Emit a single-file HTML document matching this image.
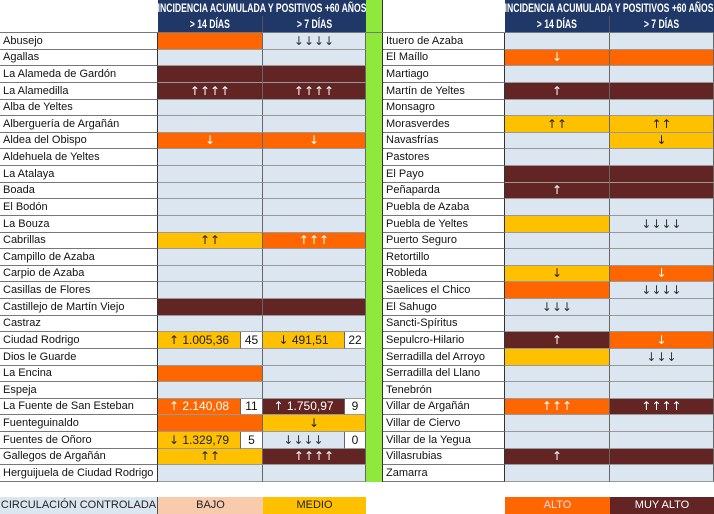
<!DOCTYPE html>
<html><head><meta charset="utf-8"><style>
body{margin:0;width:714px;height:514px;background:#fff;position:relative;overflow:hidden;font-family:"Liberation Sans",sans-serif;}
.c{position:absolute;box-sizing:border-box;font-size:11px;line-height:16px;white-space:nowrap;overflow:hidden;}
.n{padding-left:3px;color:#111;background:#fff;border-bottom:1px solid #777;border-right:1px solid #333;}
.v{text-align:center;border-bottom:1px solid #999;border-right:1px solid #666;}
.h{background:#1f3868;color:#fff;font-weight:bold;text-align:center;font-size:12px;}
.h span{display:inline-block;transform:scaleX(0.72);transform-origin:center;}
.a{font-family:"DejaVu Sans",sans-serif;font-size:12px;letter-spacing:0px;}
</style></head><body>
<div class="c h" style="left:158px;top:0;width:208px;height:16px;overflow:visible;"><span style="margin-left:-50px;margin-right:-50px;">INCIDENCIA ACUMULADA Y POSITIVOS +60 AÑOS</span></div>
<div class="c h" style="left:158px;top:16px;width:105px;height:17px;border-right:1px solid #555;line-height:17px;"><span>&gt; 14 DÍAS</span></div>
<div class="c h" style="left:263px;top:16px;width:103px;height:17px;line-height:17px;"><span>&gt; 7 DÍAS</span></div>
<div class="c h" style="left:505px;top:0;width:209px;height:16px;overflow:visible;"><span style="margin-left:-50px;margin-right:-50px;">INCIDENCIA ACUMULADA Y POSITIVOS +60 AÑOS</span></div>
<div class="c h" style="left:505px;top:16px;width:105px;height:17px;border-right:1px solid #555;line-height:17px;"><span>&gt; 14 DÍAS</span></div>
<div class="c h" style="left:610px;top:16px;width:104px;height:17px;line-height:17px;"><span>&gt; 7 DÍAS</span></div>
<div class="c" style="left:366px;top:0;width:17px;height:482px;background:#8fe83c;border-right:1px solid #333;"></div>
<div class="c" style="left:0;top:32px;width:714px;height:1px;background:#777;"></div>
<div id="t"></div>
<div class="c" style="left:0;top:497px;width:158px;height:17px;line-height:17px;background:#dce6f1;text-align:center;color:#222;border-right:1px solid #555;">CIRCULACIÓN CONTROLADA</div>
<div class="c" style="left:158px;top:497px;width:105px;height:17px;line-height:17px;background:#f8cbad;text-align:center;color:#222;">BAJO</div>
<div class="c" style="left:263px;top:497px;width:103px;height:17px;line-height:17px;background:#ffc000;text-align:center;color:#222;">MEDIO</div>
<div class="c" style="left:505px;top:497px;width:105px;height:17px;line-height:17px;background:#ff6600;text-align:center;color:#fde;">ALTO</div>
<div class="c" style="left:610px;top:497px;width:104px;height:17px;line-height:17px;background:#632523;text-align:center;color:#fff;">MUY ALTO</div>
<script>
var C={l:'#dce6f1',o:'#ff6600',m:'#632523',y:'#ffc000'};
var TC={l:'#333',o:'#fff',m:'#fff',y:'#222'};
var L=[
["Abusejo","o","","l","↓↓↓↓"],["Agallas","l","","l",""],["La Alameda de Gardón","m","","m",""],
["La Alamedilla","m","↑↑↑↑","m","↑↑↑↑"],["Alba de Yeltes","l","","l",""],["Alberguería de Argañán","l","","l",""],
["Aldea del Obispo","o","↓","o","↓"],["Aldehuela de Yeltes","l","","l",""],["La Atalaya","l","","l",""],
["Boada","l","","l",""],["El Bodón","l","","l",""],["La Bouza","l","","l",""],
["Cabrillas","y","↑↑","o","↑↑↑"],["Campillo de Azaba","l","","l",""],["Carpio de Azaba","l","","l",""],
["Casillas de Flores","l","","l",""],["Castillejo de Martín Viejo","m","","m",""],["Castraz","l","","l",""],
["Ciudad Rodrigo","y","↑ 1.005,36","y","↓ 491,51","45","22"],["Dios le Guarde","l","","l",""],["La Encina","o","","l",""],
["Espeja","l","","l",""],["La Fuente de San Esteban","o","↑ 2.140,08","m","↑ 1.750,97","11","9"],["Fuenteguinaldo","o","","y","↓"],
["Fuentes de Oñoro","y","↓ 1.329,79","l","↓↓↓↓","5","0"],["Gallegos de Argañán","y","↑↑","m","↑↑↑↑"],["Herguijuela de Ciudad Rodrigo","l","","l",""]];
var R=[
["Ituero de Azaba","l","","l",""],["El Maíllo","o","↓","o",""],["Martiago","l","","l",""],
["Martín de Yeltes","m","↑","m",""],["Monsagro","l","","l",""],["Morasverdes","y","↑↑","y","↑↑"],
["Navasfrías","l","","y","↓"],["Pastores","l","","l",""],["El Payo","m","","m",""],
["Peñaparda","m","↑","m",""],["Puebla de Azaba","l","","l",""],["Puebla de Yeltes","y","","l","↓↓↓↓"],
["Puerto Seguro","l","","l",""],["Retortillo","l","","l",""],["Robleda","y","↓","o","↓"],
["Saelices el Chico","o","","l","↓↓↓↓"],["El Sahugo","l","↓↓↓","l",""],["Sancti-Spíritus","l","","l",""],
["Sepulcro-Hilario","m","↑","o","↓"],["Serradilla del Arroyo","y","","l","↓↓↓"],["Serradilla del Llano","l","","l",""],
["Tenebrón","l","","l",""],["Villar de Argañán","o","↑↑↑","m","↑↑↑↑"],["Villar de Ciervo","l","","l",""],
["Villar de la Yegua","l","","l",""],["Villasrubias","m","↑","m",""],["Zamarra","l","","l",""]];
var h='',rh=(482-33)/27;
function fmt(t){return t.replace(/([↑↓]+)/g,'<span class="a">$1</span>');}
function cell(x,y,w,hh,cls,bg,col,txt,extra){return '<div class="c '+cls+'" style="left:'+x+'px;top:'+y+'px;width:'+w+'px;height:'+hh+'px;line-height:'+(hh-1)+'px;background:'+bg+';color:'+col+';'+(extra||'')+'">'+fmt(txt)+'</div>';}
function side(D,x0,nw,w1,w2){
 D.forEach(function(r,i){
  var y=Math.round(33+i*rh),y2=Math.round(33+(i+1)*rh),hh=y2-y;
  h+=cell(x0,y,nw,hh,'n','#fff','#111',r[0]);
  var x1=x0+nw;
  if(r.length>5){
   h+=cell(x1,y,w1-22,hh,'v',C[r[1]],TC[r[1]],r[2],'font-size:12px;');
   h+=cell(x1+w1-22,y,22,hh,'v','#fff','#111',r[5],'font-size:12px;');
   h+=cell(x1+w1,y,w2-21,hh,'v',C[r[3]],TC[r[3]],r[4],'font-size:12px;');
   h+=cell(x1+w1+w2-21,y,21,hh,'v','#fff','#111',r[6],'font-size:12px;');
  } else {
   h+=cell(x1,y,w1,hh,'v',C[r[1]],TC[r[1]],r[2],'font-size:12px;');
   h+=cell(x1+w1,y,w2,hh,'v',C[r[3]],TC[r[3]],r[4],'font-size:12px;');
  }
 });
}
side(L,0,158,105,103);
side(R,383,122,105,104);
document.getElementById('t').innerHTML=h;
</script>
</body></html>
